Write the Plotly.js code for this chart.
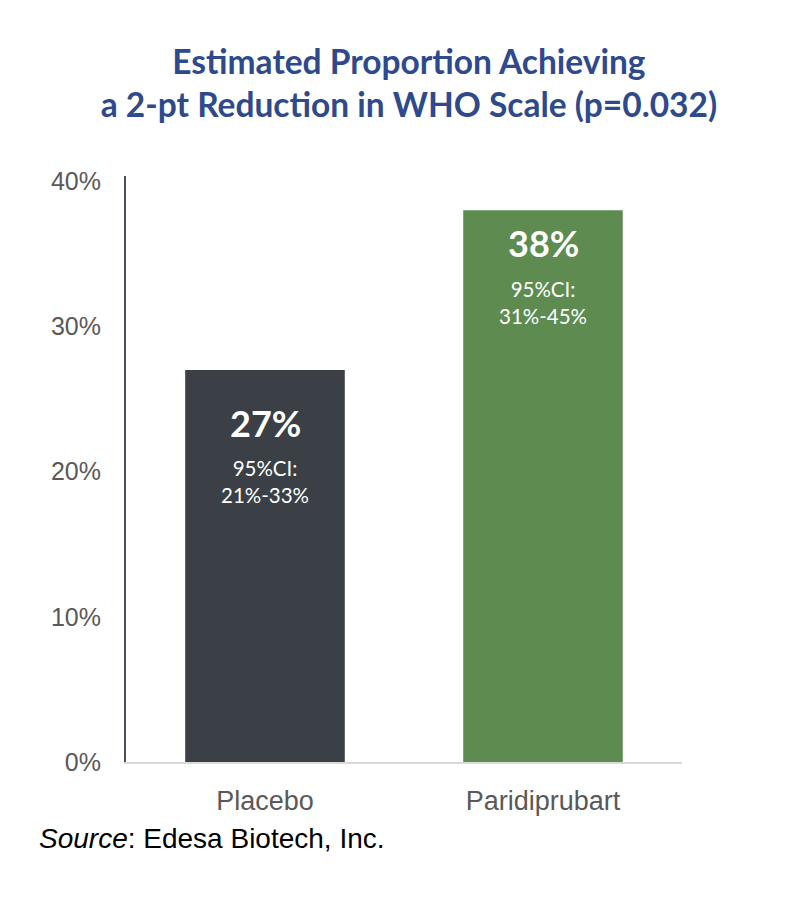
<!DOCTYPE html>
<html><head><meta charset="utf-8">
<script src="https://cdn.plot.ly/plotly-3.0.1.min.js"></script>
<style>body{margin:0;background:#fff}#chart{width:794px;height:898px}</style>
</head><body><div id="chart"></div>
<script>
const categories = ["Placebo", "Paridiprubart"];
const values = [0.27, 0.38];
const valueLabels = ["27%", "38%"];
const ciLabels = ["95%CI:<br>21%-33%", "95%CI:<br>31%-45%"];
const barColors = ["#3a4046", "#5e8c50"];
const labelShift = [-53, -33];
const yTickVals = [0, 0.1, 0.2, 0.3, 0.4];
const yTickText = ["0%", "10%", "20%", "30%", "40%"];

const trace = {
  type: "bar", x: categories, y: values,
  marker: {color: barColors}, width: 0.574,
  hoverinfo: "none"
};
const annotations = [];
categories.forEach((c, i) => {
  annotations.push({x: c, y: values[i], xref: "x", yref: "y", text: "<b>" + valueLabels[i] + "</b>",
    showarrow: false, yanchor: "middle", yshift: labelShift[i],
    font: {family: "Lato, 'Open Sans', sans-serif", size: 36, color: "#ffffff"}});
  annotations.push({x: c, y: values[i], xref: "x", yref: "y", text: ciLabels[i],
    showarrow: false, yanchor: "middle", yshift: labelShift[i] - 59,
    font: {family: "Lato, 'Open Sans', sans-serif", size: 20.5, color: "#ffffff"}});
});
annotations.push({xref: "paper", yref: "paper", x: -0.16, y: -0.13, xanchor: "left", yanchor: "middle",
  text: "<i>Source</i>: Edesa Biotech, Inc.", showarrow: false,
  font: {family: "'Liberation Sans', Arial, sans-serif", size: 28, color: "#000000"}});

const layout = {
  width: 794, height: 898,
  margin: {l: 126, r: 112, t: 176, b: 136},
  paper_bgcolor: "#ffffff", plot_bgcolor: "#ffffff",
  showlegend: false,
  title: {text: "<b>Estimated Proportion Achieving<br>a 2-pt Reduction in WHO Scale (p=0.032)</b>",
    x: 0.515, xanchor: "center", y: 0.918, yanchor: "top",
    font: {family: "Lato, 'Open Sans', sans-serif", size: 33.5, color: "#2e4a8c"}},
  xaxis: {range: [-0.5, 1.5], showgrid: false, zeroline: false, showline: true,
    linecolor: "#d9d9d9", linewidth: 1.5, ticks: "", ticklabelstandoff: 14,
    tickfont: {family: "'Liberation Sans', Arial, sans-serif", size: 27, color: "#595959"}},
  yaxis: {range: [0, 0.4035], tickvals: yTickVals, ticktext: yTickText, showgrid: false,
    zeroline: false, showline: true, linecolor: "#4a5258", linewidth: 2, ticks: "",
    ticklabelstandoff: 18,
    tickfont: {family: "'Liberation Sans', Arial, sans-serif", size: 25, color: "#595959"}},
  annotations: annotations
};
Plotly.newPlot("chart", [trace], layout, {displayModeBar: false, staticPlot: true});
</script></body></html>
